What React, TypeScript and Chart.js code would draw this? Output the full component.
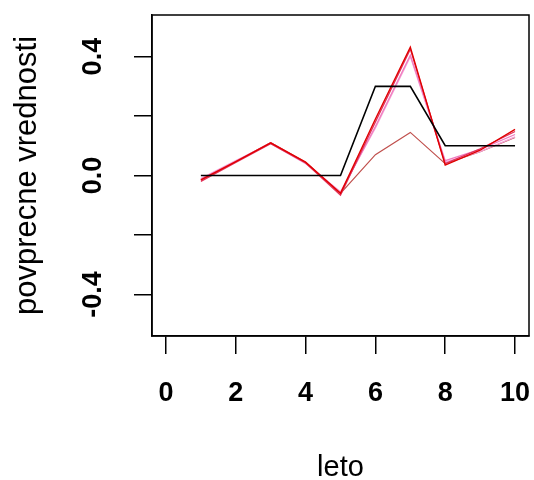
import React, { useEffect, useRef } from "react";
import { Chart, registerables } from "chart.js";

Chart.register(...registerables);

const xValues = [1, 2, 3, 4, 5, 6, 7, 8, 9, 10];
const trueValues = [0, 0, 0, 0, 0, 0.3, 0.3, 0.1, 0.1, 0.1];
const seriesRed = [-0.015, 0.047, 0.11, 0.045, -0.06, 0.19, 0.432, 0.035, 0.085, 0.155];
const seriesCrimson = [-0.02, 0.044, 0.107, 0.042, -0.066, 0.18, 0.425, 0.04, 0.09, 0.148];
const seriesPink = [-0.012, 0.048, 0.11, 0.043, -0.058, 0.165, 0.405, 0.05, 0.088, 0.138];
const seriesViolet = [-0.01, 0.05, 0.108, 0.04, -0.055, 0.16, 0.4, 0.045, 0.08, 0.13];
const seriesBrown = [-0.015, 0.047, 0.11, 0.045, -0.06, 0.07, 0.145, 0.04, 0.08, 0.128];

const xTicks = [0, 2, 4, 6, 8, 10];
const yTicks = [-0.4, -0.2, 0, 0.2, 0.4];
const yTickLabels = ["-0.4", "", "0.0", "", "0.4"];

const xTitle = "leto";
const yTitle = "povprecne vrednosti";

const FONT = "'Liberation Sans', Arial, sans-serif";

const pts = (ys: number[]) => xValues.map((x, i) => ({ x, y: ys[i] }));

const boxPlugin = {
  id: "box",
  afterDraw(chart: any) {
    const { ctx, chartArea } = chart;
    ctx.save();
    ctx.strokeStyle = "#000";
    ctx.lineWidth = 1.5;
    ctx.strokeRect(chartArea.left, chartArea.top, chartArea.right - chartArea.left, chartArea.bottom - chartArea.top);
    ctx.restore();
  },
};

const noPad = (s: any) => {
  s.paddingTop = 0;
  s.paddingBottom = 0;
  s.paddingLeft = 0;
  s.paddingRight = 0;
};

export default function App() {
  const ref = useRef<HTMLCanvasElement>(null);
  useEffect(() => {
    if (!ref.current) return;
    const mk = (label: string, ys: number[], color: string, width: number) => ({
      label,
      data: pts(ys),
      borderColor: color,
      backgroundColor: color,
      borderWidth: width,
      pointRadius: 0,
      tension: 0,
      fill: false,
    });
    const chart = new Chart(ref.current, {
      type: "line",
      data: {
        datasets: [
          mk("true", trueValues, "#000000", 1.6),
          mk("red", seriesRed, "#e00000", 1.4),
          mk("crimson", seriesCrimson, "#e0305a", 1.3),
          mk("pink", seriesPink, "#f07cc0", 1.3),
          mk("violet", seriesViolet, "#f4a6d8", 1.3),
          mk("brown", seriesBrown, "#c0504d", 1.2),
        ],
      },
      options: {
        animation: false,
        responsive: false,
        devicePixelRatio: 1,
        layout: { padding: { top: 15, right: 5, left: 0, bottom: 0 } },
        plugins: { legend: { display: false }, tooltip: { enabled: false } },
        scales: {
          x: {
            type: "linear",
            position: "bottom",
            min: -0.4,
            max: 10.4,
            afterBuildTicks: (s: any) => {
              s.ticks = xTicks.map((v) => ({ value: v }));
            },
            afterFit: (s: any) => {
              s.height = 144;
              noPad(s);
            },
            ticks: {
              color: "#000",
              font: { family: FONT, size: 27, weight: "bold" },
              padding: 23,
              maxRotation: 0,
              minRotation: 0,
              callback: (v: any) => String(v),
            },
            grid: {
              drawOnChartArea: false,
              drawTicks: true,
              tickLength: 18,
              color: "#000",
              lineWidth: 1.5,
            },
            border: { display: true, color: "#000", width: 1.5 },
            title: {
              display: true,
              text: xTitle,
              color: "#000",
              font: { family: FONT, size: 29, lineHeight: 1 },
              padding: { top: 0, bottom: -2 },
            },
          },
          y: {
            type: "linear",
            position: "left",
            min: -0.54,
            max: 0.54,
            afterBuildTicks: (s: any) => {
              s.ticks = yTicks.map((v) => ({ value: v }));
            },
            afterFit: (s: any) => {
              s.width = 152;
              noPad(s);
            },
            ticks: {
              color: "#000",
              font: { family: FONT, size: 27, weight: "bold" },
              padding: 17,
              minRotation: 90,
              maxRotation: 90,
              crossAlign: "center",
              callback: (v: any, i: number) => yTickLabels[i],
            },
            grid: {
              drawOnChartArea: false,
              drawTicks: true,
              tickLength: 18,
              color: "#000",
              lineWidth: 1.5,
            },
            border: { display: true, color: "#000", width: 1.5 },
            title: {
              display: true,
              text: yTitle,
              color: "#000",
              font: { family: FONT, size: 31, lineHeight: 1 },
              padding: { top: 12, bottom: 0 },
            },
          },
        },
      },
      plugins: [boxPlugin],
    });
    return () => chart.destroy();
  }, []);
  return (
    <div style={{ position: "fixed", left: 0, top: 0, width: 534, height: 480, background: "#fff" }}>
      <canvas ref={ref} width={534} height={480} style={{ width: 534, height: 480, display: "block" }} />
    </div>
  );
}
